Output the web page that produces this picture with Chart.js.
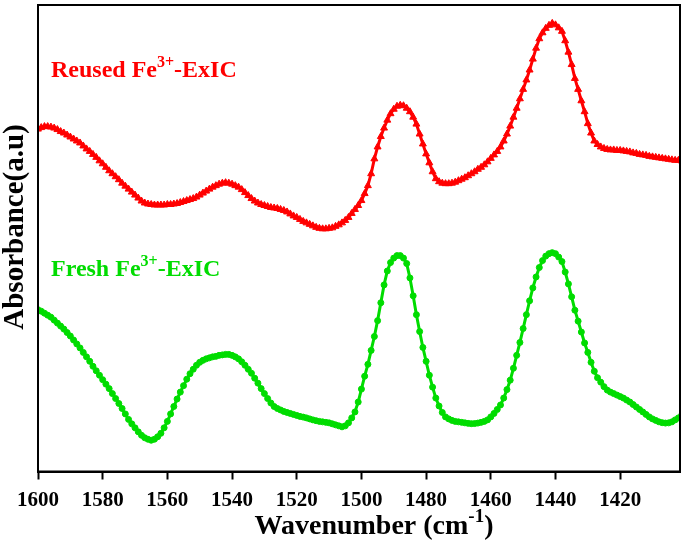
<!DOCTYPE html>
<html>
<head>
<meta charset="utf-8">
<script src="https://cdn.jsdelivr.net/npm/chart.js@4.4.1/dist/chart.umd.min.js"></script>
<style>
  html, body { margin: 0; padding: 0; background: #fff; }
  #wrap { width: 685px; height: 543px; }
</style>
</head>
<body>
<div id="wrap"><canvas id="ftir" width="685" height="543"></canvas></div>
<script>
// wavenumbers 1600 -> 1401 cm-1, step 1
const wavenumbers = [];
for (let w = 1600; w >= 1401; w--) wavenumbers.push(w);

const xTicks = [1600, 1580, 1560, 1540, 1520, 1500, 1480, 1460, 1440, 1420];

// Reused Fe3+-ExIC (absorbance, arbitrary units)
const reused = [
  345, 346.5, 347.5, 347.5, 347, 346, 344.5, 342.5, 341, 339,
  337, 335, 333, 331, 328, 325, 322.5, 319.5, 316.5, 313,
  310, 306.5, 303, 300, 297, 294, 290.5, 287.5, 284.5, 281.5,
  278.5, 275.5, 272.5, 270.5, 269.5, 269, 268.5, 268.5, 268.5, 268.5,
  269, 269, 269.5, 270, 271, 272, 273, 274, 275, 276.5,
  278.5, 280.5, 282.5, 284.5, 286.5, 288, 289.5, 290.5, 291, 290.5,
  289.5, 288, 286.5, 284, 281, 278, 275, 272.5, 270.5, 269,
  268, 267, 266, 265.5, 265, 264, 263, 261.5, 259.5, 257.5,
  256, 254, 252, 250.5, 249, 247.5, 246, 245, 244.5, 244.5,
  245, 245.5, 247, 248.5, 250.5, 253, 256, 260, 264, 268,
  273, 280, 288, 300, 315, 327, 337.5, 346, 354, 360.5,
  365, 368, 369, 368.5, 366, 362.5, 357, 350, 340, 330,
  320, 311, 302, 295, 292, 290.5, 290, 290, 290.5, 291.5,
  293, 294.5, 296, 298, 300, 302, 304.5, 306.5, 309, 312,
  315.5, 319, 322.5, 327, 333, 340, 348, 357, 366, 375.5,
  385, 394.5, 404.5, 415.5, 426.5, 436, 442, 446.5, 449.5, 451.5,
  450, 447, 443.5, 434, 422.5, 410, 396, 385, 373.5, 362.5,
  350.5, 341, 333, 329.5, 327, 325.5, 324.5, 324, 324, 323.5,
  323.5, 323, 322.5, 322, 321, 320.5, 319.5, 319, 318.5, 317.5,
  317, 316.5, 316, 315.5, 315, 314.5, 314, 313.5, 313.5, 313
];

// Fresh Fe3+-ExIC
const fresh = [
  163, 161.5, 159.5, 157.5, 155.5, 152.5, 149.5, 146.5, 143.5, 140,
  136.5, 132.5, 128.5, 124.5, 120, 115.5, 111, 106, 101.5, 97,
  92.5, 88, 83.5, 78.5, 73.5, 68.5, 63.5, 58, 52.5, 48,
  44, 40, 36.5, 34, 32.5, 31.5, 32.5, 35, 38.5, 44,
  50.5, 58, 65.5, 73, 80, 86.5, 93, 98.5, 103, 107,
  110, 112, 113.5, 114.5, 115.5, 116, 117, 117.5, 118, 118,
  117, 115.5, 113.5, 110.5, 107, 103, 99, 94, 89, 83.5,
  78.5, 73.5, 69, 65.5, 63.5, 62, 60.5, 59.5, 58.5, 57.5,
  56.5, 55.5, 54.8, 54, 53, 52, 51.2, 50.5, 50, 49.5,
  49, 48, 47, 46, 45, 46, 49, 54, 60, 70,
  83, 96, 108, 122, 136, 152, 170, 188, 202, 210.5,
  215, 217.5, 217.5, 215, 209.5, 195, 177, 158, 141, 125,
  111, 97, 85, 74, 66, 59.5, 55, 53, 51.5, 50.5,
  50, 49.5, 49, 48.5, 48.2, 48.3, 48.8, 49.5, 50.5, 52,
  55, 58.5, 62.5, 67, 74, 82.5, 92, 104, 117, 130,
  144, 158, 172, 185, 196, 205.5, 212.5, 217, 219.5, 220.5,
  219.5, 216, 211.5, 201, 189, 176, 162.5, 151.5, 140.5, 129.5,
  120, 110, 101, 94.5, 90, 85.5, 82, 80, 78.5, 77,
  75.5, 74, 72, 70, 67.5, 65, 62.5, 60, 57.5, 55,
  53, 51.5, 50, 49.2, 48.8, 49, 50, 52, 54, 56.5
];

const RED = '#ff0000';
const GREEN = '#00dc00';
const SERIF = '"Liberation Serif", "Times New Roman", "DejaVu Serif", serif';

function toPoints(vals) {
  return wavenumbers.map((w, i) => ({ x: w, y: vals[i] }));
}

// text with a superscript part: [[text, isSup], ...]
function drawRich(ctx, parts, x, y, size, color, align) {
  const supSize = Math.round(size * 0.68);
  let total = 0;
  parts.forEach(p => {
    ctx.font = 'bold ' + (p[1] ? supSize : size) + 'px ' + SERIF;
    total += ctx.measureText(p[0]).width;
  });
  let cx = align === 'center' ? x - total / 2 : x;
  ctx.fillStyle = color;
  ctx.textBaseline = 'alphabetic';
  ctx.textAlign = 'left';
  parts.forEach(p => {
    ctx.font = 'bold ' + (p[1] ? supSize : size) + 'px ' + SERIF;
    ctx.fillText(p[0], cx, p[1] ? y - size * 0.42 : y);
    cx += ctx.measureText(p[0]).width;
  });
}

const decorations = {
  id: 'decorations',
  afterDraw(chart) {
    const { ctx, chartArea } = chart;
    ctx.save();
    ctx.strokeStyle = '#000';
    ctx.lineWidth = 2;
    ctx.strokeRect(chartArea.left, chartArea.top, chartArea.right - chartArea.left, chartArea.bottom - chartArea.top);

    drawRich(ctx, [['Reused Fe', false], ['3+', true], ['-ExIC', false]], chartArea.left + 13, 77, 24, RED, 'left');
    drawRich(ctx, [['Fresh Fe', false], ['3+', true], ['-ExIC', false]], chartArea.left + 13, 276, 24, GREEN, 'left');

    drawRich(ctx, [['Wavenumber (cm', false], ['-1', true], [')', false]], 374, 534, 28, '#000', 'center');

    ctx.translate(23, 227);
    ctx.rotate(-Math.PI / 2);
    drawRich(ctx, [['Absorbance(a.u)', false]], 0, 0, 29, '#000', 'center');
    ctx.restore();
  }
};

new Chart(document.getElementById('ftir').getContext('2d'), {
  type: 'line',
  data: {
    datasets: [
      {
        label: 'Reused Fe3+-ExIC',
        data: toPoints(reused),
        borderColor: RED,
        backgroundColor: RED,
        borderWidth: 3,
        pointStyle: 'triangle',
        pointRadius: 4,
        pointBorderWidth: 1,
        tension: 0
      },
      {
        label: 'Fresh Fe3+-ExIC',
        data: toPoints(fresh),
        borderColor: GREEN,
        backgroundColor: GREEN,
        borderWidth: 3,
        pointStyle: 'circle',
        pointRadius: 3,
        pointBorderWidth: 1,
        tension: 0
      }
    ]
  },
  options: {
    responsive: false,
    animation: false,
    layout: { padding: { top: 2, right: 3, left: 0, bottom: 0 } },
    plugins: {
      legend: { display: false },
      tooltip: { enabled: false }
    },
    scales: {
      x: {
        type: 'linear',
        reverse: true,
        min: 1401.5,
        max: 1600,
        afterFit(scale) { scale.height = 71.5; },
        afterBuildTicks(scale) { scale.ticks = xTicks.map(v => ({ value: v })); },
        border: { color: '#000', width: 2 },
        grid: { display: true, drawOnChartArea: false, drawTicks: true, tickLength: 8, tickColor: '#000', tickWidth: 2 },
        ticks: {
          color: '#000',
          padding: 8,
          maxRotation: 0,
          autoSkip: false,
          font: { family: SERIF, size: 21, weight: 'bold' },
          callback: v => String(v)
        }
      },
      y: {
        min: 0,
        max: 470,
        afterFit(scale) { scale.width = 38; },
        border: { color: '#000', width: 2 },
        grid: { display: false },
        ticks: { display: false }
      }
    }
  },
  plugins: [decorations]
});
</script>
</body>
</html>
